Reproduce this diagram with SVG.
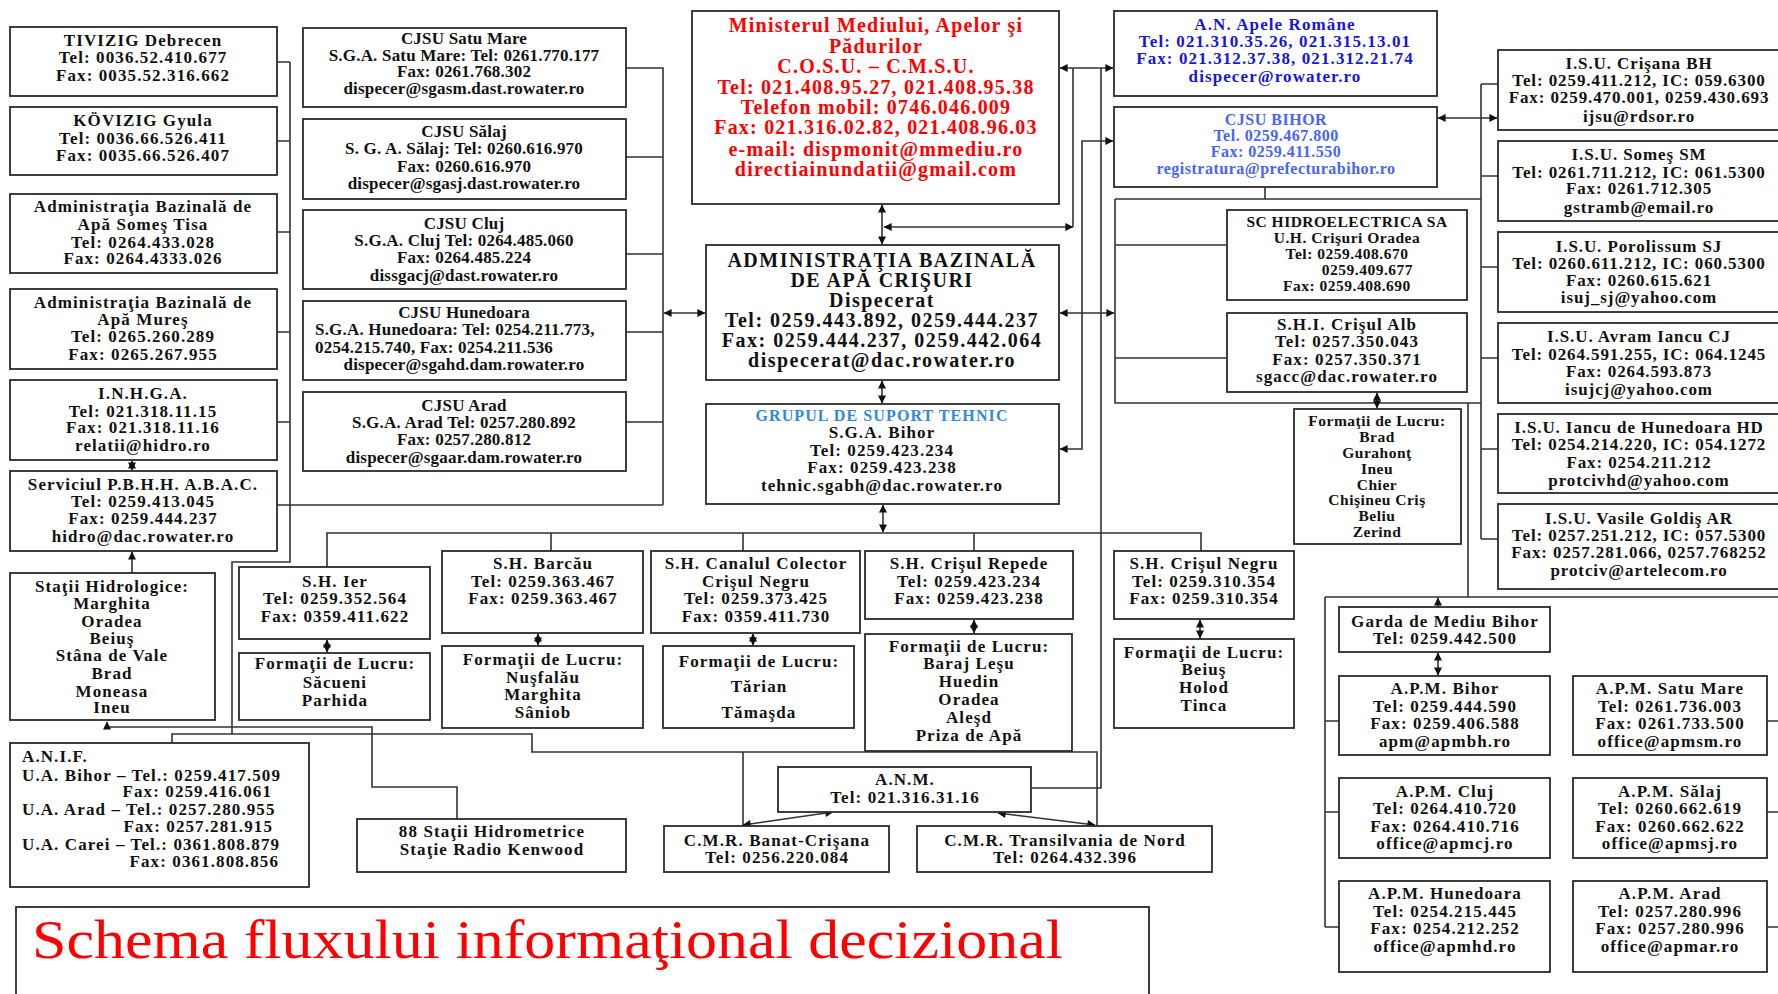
<svg xmlns="http://www.w3.org/2000/svg" width="1778" height="994" viewBox="0 0 1778 994">
<defs>
<style>
rect.b{fill:#fff;stroke:#2b2b2b;stroke-width:1.8}
text{font-family:"Liberation Serif","Times New Roman",serif;font-weight:bold;text-anchor:middle;fill:#111;font-size:17px;letter-spacing:1.1px}
.c{letter-spacing:.2px}
.m{font-size:20px;letter-spacing:1.2px;fill:#ff0000}
.a{font-size:20px;letter-spacing:1.5px}
.n{fill:#1515e6}
.cb{font-size:16px;letter-spacing:.5px;fill:#4664ff}
.gs{fill:#3388dd;font-size:16px}
.h{font-size:15.5px;letter-spacing:.5px}
.i{letter-spacing:.9px}
.st{text-anchor:start}
.en{text-anchor:end}
.title{font-weight:normal;fill:#ff0000;font-size:54px;letter-spacing:0;text-anchor:start}
.ln{fill:none;stroke:#333;stroke-width:1.6}
</style>
<marker id="ah" viewBox="0 0 10 10" refX="9.5" refY="5" markerWidth="9" markerHeight="8" markerUnits="userSpaceOnUse" orient="auto-start-reverse"><path d="M0,0 L10,5 L0,10 z" fill="#111"/></marker>
</defs>
<rect width="1778" height="994" fill="#fff"/>

<g id="connectors">
<path class="ln" d="M277,62H290 M277,141H290 M277,232H290 M277,332H290 M277,422H290 M290,62V562H232V734 M172,743V734H532V752H1097V825 M743,752V825"/>
<path class="ln" d="M457,819V787H372V727H107V722" marker-end="url(#ah)"/>
<path class="ln" d="M132,573V552" marker-end="url(#ah)"/>
<path class="ln" d="M132,461V470" marker-start="url(#ah)" marker-end="url(#ah)"/>
<path class="ln" d="M277,505H663 M626,68H663V505 M626,157H663 M626,254H663 M626,332H663 M626,422H663"/>
<path class="ln" d="M664,313H705" marker-start="url(#ah)" marker-end="url(#ah)"/>
<path class="ln" d="M882,205V244" marker-start="url(#ah)" marker-end="url(#ah)"/>
<path class="ln" d="M884,227H1073" marker-start="url(#ah)" marker-end="url(#ah)"/>
<path class="ln" d="M1073,68V227 M1101,68V788H1032"/>
<path class="ln" d="M1060,68H1113" marker-start="url(#ah)" marker-end="url(#ah)"/>
<path class="ln" d="M1060,449H1082V141H1113" marker-start="url(#ah)" marker-end="url(#ah)"/>
<path class="ln" d="M1060,313H1114" marker-start="url(#ah)" marker-end="url(#ah)"/>
<path class="ln" d="M1265,187V199 M1115,199H1481 M1115,199V403H1481 M1115,245H1227 M1115,358H1227"/>
<path class="ln" d="M1377,393V408" marker-start="url(#ah)" marker-end="url(#ah)"/>
<path class="ln" d="M1481,84V539 M1481,84H1498 M1481,176H1498 M1481,267H1498 M1481,358H1498 M1481,449H1498 M1481,539H1498"/>
<path class="ln" d="M1438,118H1497" marker-start="url(#ah)" marker-end="url(#ah)"/>
<path class="ln" d="M1468,403V597 M1325,597H1778 M1325,597V927 M1325,721H1339 M1325,812H1339 M1325,927H1339 M1767,721H1778 M1767,812H1778 M1767,927H1778"/>
<path class="ln" d="M1438,607V598" marker-end="url(#ah)"/>
<path class="ln" d="M1438,653V675" marker-start="url(#ah)" marker-end="url(#ah)"/>
<path class="ln" d="M882,381V403" marker-start="url(#ah)" marker-end="url(#ah)"/>
<path class="ln" d="M883,505V532" marker-start="url(#ah)" marker-end="url(#ah)"/>
<path class="ln" d="M327,567V533H1201V551 M551,533V551 M743,533V551 M974,533V551"/>
<path class="ln" d="M327,640V652" marker-start="url(#ah)" marker-end="url(#ah)"/>
<path class="ln" d="M538,634V645" marker-start="url(#ah)" marker-end="url(#ah)"/>
<path class="ln" d="M753,634V645" marker-start="url(#ah)" marker-end="url(#ah)"/>
<path class="ln" d="M974,620V633" marker-start="url(#ah)" marker-end="url(#ah)"/>
<path class="ln" d="M1200,620V638" marker-start="url(#ah)" marker-end="url(#ah)"/>
<path class="ln" d="M743,825L833,812" marker-start="url(#ah)" marker-end="url(#ah)"/>
<path class="ln" d="M998,813L1095,825" marker-start="url(#ah)" marker-end="url(#ah)"/>
</g>

<g id="n-tivizig"><rect class="b" x="10" y="27" width="267" height="69"/><text x="143" y="46">TIVIZIG Debrecen</text><text x="143" y="63">Tel: 0036.52.410.677</text><text x="143" y="81">Fax: 0035.52.316.662</text></g>
<g id="n-kovizig"><rect class="b" x="10" y="107" width="267" height="68"/><text x="143" y="126">KÖVIZIG Gyula</text><text x="143" y="144">Tel: 0036.66.526.411</text><text x="143" y="161">Fax: 0035.66.526.407</text></g>
<g id="n-aba-somes"><rect class="b" x="10" y="194" width="267" height="79"/><text x="143" y="212">Administraţia Bazinală de</text><text x="143" y="230">Apă Someş Tisa</text><text x="143" y="248">Tel: 0264.433.028</text><text x="143" y="264">Fax: 0264.4333.026</text></g>
<g id="n-aba-mures"><rect class="b" x="10" y="289" width="267" height="80"/><text x="143" y="308">Administraţia Bazinală de</text><text x="143" y="325">Apă Mureş</text><text x="143" y="342">Tel: 0265.260.289</text><text x="143" y="360">Fax: 0265.267.955</text></g>
<g id="n-inhga"><rect class="b" x="10" y="380" width="267" height="80"/><text x="143" y="399">I.N.H.G.A.</text><text x="143" y="417">Tel: 021.318.11.15</text><text x="143" y="433">Fax: 021.318.11.16</text><text x="143" y="451">relatii@hidro.ro</text></g>
<g id="n-pbhh"><rect class="b" x="10" y="471" width="267" height="80"/><text x="143" y="490">Serviciul P.B.H.H. A.B.A.C.</text><text x="143" y="507">Tel: 0259.413.045</text><text x="143" y="524">Fax: 0259.444.237</text><text x="143" y="542">hidro@dac.rowater.ro</text></g>
<g id="n-statii"><rect class="b" x="10" y="573" width="205" height="147"/><text x="112" y="592">Staţii Hidrologice:</text><text x="112" y="609">Marghita</text><text x="112" y="627">Oradea</text><text x="112" y="644">Beiuş</text><text x="112" y="661">Stâna de Vale</text><text x="112" y="679">Brad</text><text x="112" y="697">Moneasa</text><text x="112" y="713">Ineu</text></g>
<g id="n-anif"><rect class="b" x="10" y="743" width="299" height="144"/><text class="st" x="22" y="762">A.N.I.F.</text><text class="st" x="22" y="781">U.A. Bihor – Tel.: 0259.417.509</text><text class="en" x="272" y="797">Fax: 0259.416.061</text><text class="st" x="22" y="815">U.A. Arad – Tel.: 0257.280.955</text><text class="en" x="273" y="832">Fax: 0257.281.915</text><text class="st" x="22" y="850">U.A. Carei – Tel.: 0361.808.879</text><text class="en" x="279" y="867">Fax: 0361.808.856</text></g>

<g id="n-cjsu-sm"><rect class="b" x="303" y="28" width="323" height="79"/><text class="c" x="464" y="44">CJSU Satu Mare</text><text class="c" x="464" y="61">S.G.A. Satu Mare: Tel: 0261.770.177</text><text class="c" x="464" y="77">Fax: 0261.768.302</text><text class="c" x="464" y="94">dispecer@sgasm.dast.rowater.ro</text></g>
<g id="n-cjsu-sj"><rect class="b" x="303" y="119" width="323" height="80"/><text class="c" x="464" y="137">CJSU Sălaj</text><text class="c" x="464" y="154">S. G. A. Sălaj: Tel: 0260.616.970</text><text class="c" x="464" y="172">Fax: 0260.616.970</text><text class="c" x="464" y="189">dispecer@sgasj.dast.rowater.ro</text></g>
<g id="n-cjsu-cj"><rect class="b" x="303" y="210" width="323" height="79"/><text class="c" x="464" y="229">CJSU Cluj</text><text class="c" x="464" y="246">S.G.A. Cluj Tel: 0264.485.060</text><text class="c" x="464" y="263">Fax: 0264.485.224</text><text class="c" x="464" y="281">dissgacj@dast.rowater.ro</text></g>
<g id="n-cjsu-hd"><rect class="b" x="303" y="301" width="323" height="79"/><text class="c" x="464" y="318">CJSU Hunedoara</text><text class="c st" x="315" y="335">S.G.A. Hunedoara: Tel: 0254.211.773,</text><text class="c st" x="315" y="353">0254.215.740, Fax: 0254.211.536</text><text class="c" x="464" y="370">dispecer@sgahd.dam.rowater.ro</text></g>
<g id="n-cjsu-ar"><rect class="b" x="303" y="392" width="323" height="79"/><text class="c" x="464" y="411">CJSU Arad</text><text class="c" x="464" y="428">S.G.A. Arad Tel: 0257.280.892</text><text class="c" x="464" y="445">Fax: 0257.280.812</text><text class="c" x="464" y="463">dispecer@sgaar.dam.rowater.ro</text></g>

<g id="n-minister"><rect class="b" x="692" y="11" width="367" height="193"/><text class="m" x="876" y="32">Ministerul Mediului, Apelor şi</text><text class="m" x="876" y="53">Pădurilor</text><text class="m" x="876" y="73">C.O.S.U. – C.M.S.U.</text><text class="m" x="876" y="94">Tel: 021.408.95.27, 021.408.95.38</text><text class="m" x="876" y="114">Telefon mobil: 0746.046.009</text><text class="m" x="876" y="134">Fax: 021.316.02.82, 021.408.96.03</text><text class="m" x="876" y="156">e-mail: dispmonit@mmediu.ro</text><text class="m" x="876" y="176">directiainundatii@gmail.com</text></g>
<g id="n-abac"><rect class="b" x="706" y="245" width="353" height="135"/><text class="a" x="882" y="267">ADMINISTRAŢIA BAZINALĂ</text><text class="a" x="882" y="287">DE APĂ CRIŞURI</text><text class="a" x="882" y="307">Dispecerat</text><text class="a" x="882" y="327">Tel: 0259.443.892, 0259.444.237</text><text class="a" x="882" y="347">Fax: 0259.444.237, 0259.442.064</text><text class="a" x="882" y="367">dispecerat@dac.rowater.ro</text></g>
<g id="n-grupul"><rect class="b" x="706" y="404" width="353" height="100"/><text class="gs" x="882" y="421">GRUPUL DE SUPORT TEHNIC</text><text x="882" y="438">S.G.A. Bihor</text><text x="882" y="456">Tel: 0259.423.234</text><text x="882" y="473">Fax: 0259.423.238</text><text x="882" y="491">tehnic.sgabh@dac.rowater.ro</text></g>
<g id="n-apele"><rect class="b" x="1114" y="11" width="323" height="85"/><text class="n" x="1275" y="30">A.N. Apele Române</text><text class="n" x="1275" y="47">Tel: 021.310.35.26, 021.315.13.01</text><text class="n" x="1275" y="64">Fax: 021.312.37.38, 021.312.21.74</text><text class="n" x="1275" y="82">dispecer@rowater.ro</text></g>
<g id="n-cjsu-bihor"><rect class="b" x="1114" y="107" width="323" height="80"/><text class="cb" x="1276" y="125">CJSU BIHOR</text><text class="cb" x="1276" y="141">Tel. 0259.467.800</text><text class="cb" x="1276" y="157">Fax: 0259.411.550</text><text class="cb" x="1276" y="174">registratura@prefecturabihor.ro</text></g>
<g id="n-hidroelectrica"><rect class="b" x="1227" y="210" width="240" height="90"/><text class="h" x="1347" y="227">SC HIDROELECTRICA SA</text><text class="h" x="1347" y="243">U.H. Crişuri Oradea</text><text class="h" x="1347" y="259">Tel: 0259.408.670</text><text class="h en" x="1413" y="275">0259.409.677</text><text class="h" x="1347" y="291">Fax: 0259.408.690</text></g>
<g id="n-shi-alb"><rect class="b" x="1227" y="313" width="240" height="79"/><text x="1347" y="330">S.H.I. Crişul Alb</text><text x="1347" y="347">Tel: 0257.350.043</text><text x="1347" y="365">Fax: 0257.350.371</text><text x="1347" y="382">sgacc@dac.rowater.ro</text></g>
<g id="n-form-alb"><rect class="b" x="1294" y="409" width="167" height="135"/><text class="h" x="1377" y="426">Formaţii de Lucru:</text><text class="h" x="1377" y="442">Brad</text><text class="h" x="1377" y="458">Gurahonţ</text><text class="h" x="1377" y="474">Ineu</text><text class="h" x="1377" y="490">Chier</text><text class="h" x="1377" y="505">Chişineu Criş</text><text class="h" x="1377" y="521">Beliu</text><text class="h" x="1377" y="537">Zerind</text></g>

<g id="n-isu-bh"><rect class="b" x="1498" y="50" width="282" height="80"/><text class="i" x="1639" y="69">I.S.U. Crişana BH</text><text class="i" x="1639" y="86">Tel: 0259.411.212, IC: 059.6300</text><text class="i" x="1639" y="103">Fax: 0259.470.001, 0259.430.693</text><text class="i" x="1639" y="122">ijsu@rdsor.ro</text></g>
<g id="n-isu-sm"><rect class="b" x="1498" y="141" width="282" height="80"/><text class="i" x="1639" y="160">I.S.U. Someş SM</text><text class="i" x="1639" y="178">Tel: 0261.711.212, IC: 061.5300</text><text class="i" x="1639" y="194">Fax: 0261.712.305</text><text class="i" x="1639" y="213">gstramb@email.ro</text></g>
<g id="n-isu-sj"><rect class="b" x="1498" y="232" width="282" height="80"/><text class="i" x="1639" y="252">I.S.U. Porolissum SJ</text><text class="i" x="1639" y="269">Tel: 0260.611.212, IC: 060.5300</text><text class="i" x="1639" y="286">Fax: 0260.615.621</text><text class="i" x="1639" y="303">isuj_sj@yahoo.com</text></g>
<g id="n-isu-cj"><rect class="b" x="1498" y="323" width="282" height="80"/><text class="i" x="1639" y="342">I.S.U. Avram Iancu CJ</text><text class="i" x="1639" y="360">Tel: 0264.591.255, IC: 064.1245</text><text class="i" x="1639" y="377">Fax: 0264.593.873</text><text class="i" x="1639" y="395">isujcj@yahoo.com</text></g>
<g id="n-isu-hd"><rect class="b" x="1498" y="414" width="282" height="79"/><text class="i" x="1639" y="433">I.S.U. Iancu de Hunedoara HD</text><text class="i" x="1639" y="450">Tel: 0254.214.220, IC: 054.1272</text><text class="i" x="1639" y="468">Fax: 0254.211.212</text><text class="i" x="1639" y="486">protcivhd@yahoo.com</text></g>
<g id="n-isu-ar"><rect class="b" x="1498" y="504" width="282" height="85"/><text class="i" x="1639" y="524">I.S.U. Vasile Goldiş AR</text><text class="i" x="1639" y="541">Tel: 0257.251.212, IC: 057.5300</text><text class="i" x="1639" y="558">Fax: 0257.281.066, 0257.768252</text><text class="i" x="1639" y="576">protciv@artelecom.ro</text></g>

<g id="n-garda"><rect class="b" x="1339" y="607" width="211" height="45"/><text x="1445" y="627">Garda de Mediu Bihor</text><text x="1445" y="644">Tel: 0259.442.500</text></g>
<g id="n-apm-bh"><rect class="b" x="1339" y="676" width="211" height="79"/><text x="1445" y="694">A.P.M. Bihor</text><text x="1445" y="712">Tel: 0259.444.590</text><text x="1445" y="729">Fax: 0259.406.588</text><text x="1445" y="747">apm@apmbh.ro</text></g>
<g id="n-apm-sm"><rect class="b" x="1573" y="676" width="194" height="79"/><text x="1670" y="694">A.P.M. Satu Mare</text><text x="1670" y="712">Tel: 0261.736.003</text><text x="1670" y="729">Fax: 0261.733.500</text><text x="1670" y="747">office@apmsm.ro</text></g>
<g id="n-apm-cj"><rect class="b" x="1339" y="778" width="211" height="80"/><text x="1445" y="797">A.P.M. Cluj</text><text x="1445" y="814">Tel: 0264.410.720</text><text x="1445" y="832">Fax: 0264.410.716</text><text x="1445" y="849">office@apmcj.ro</text></g>
<g id="n-apm-sj"><rect class="b" x="1573" y="778" width="194" height="80"/><text x="1670" y="797">A.P.M. Sălaj</text><text x="1670" y="814">Tel: 0260.662.619</text><text x="1670" y="832">Fax: 0260.662.622</text><text x="1670" y="849">office@apmsj.ro</text></g>
<g id="n-apm-hd"><rect class="b" x="1339" y="881" width="211" height="91"/><text x="1445" y="899">A.P.M. Hunedoara</text><text x="1445" y="917">Tel: 0254.215.445</text><text x="1445" y="934">Fax: 0254.212.252</text><text x="1445" y="952">office@apmhd.ro</text></g>
<g id="n-apm-ar"><rect class="b" x="1573" y="881" width="194" height="91"/><text x="1670" y="899">A.P.M. Arad</text><text x="1670" y="917">Tel: 0257.280.996</text><text x="1670" y="934">Fax: 0257.280.996</text><text x="1670" y="952">office@apmar.ro</text></g>

<g id="n-sh-ier"><rect class="b" x="239" y="567" width="191" height="72"/><text x="335" y="587">S.H. Ier</text><text x="335" y="604">Tel: 0259.352.564</text><text x="335" y="622">Fax: 0359.411.622</text></g>
<g id="n-form-ier"><rect class="b" x="239" y="653" width="191" height="67"/><text x="335" y="669">Formaţii de Lucru:</text><text x="335" y="688">Săcueni</text><text x="335" y="706">Parhida</text></g>
<g id="n-sh-barcau"><rect class="b" x="442" y="551" width="201" height="82"/><text x="543" y="569">S.H. Barcău</text><text x="543" y="587">Tel: 0259.363.467</text><text x="543" y="604">Fax: 0259.363.467</text></g>
<g id="n-form-barcau"><rect class="b" x="442" y="646" width="201" height="82"/><text x="543" y="665">Formaţii de Lucru:</text><text x="543" y="683">Nuşfalău</text><text x="543" y="700">Marghita</text><text x="543" y="718">Sâniob</text></g>
<g id="n-sh-canal"><rect class="b" x="651" y="551" width="209" height="82"/><text x="756" y="569">S.H. Canalul Colector</text><text x="756" y="587">Crişul Negru</text><text x="756" y="604">Tel: 0259.373.425</text><text x="756" y="622">Fax: 0359.411.730</text></g>
<g id="n-form-canal"><rect class="b" x="663" y="646" width="191" height="82"/><text x="759" y="667">Formaţii de Lucru:</text><text x="759" y="692">Tărian</text><text x="759" y="718">Tămaşda</text></g>
<g id="n-sh-repede"><rect class="b" x="865" y="551" width="208" height="68"/><text x="969" y="569">S.H. Crişul Repede</text><text x="969" y="587">Tel: 0259.423.234</text><text x="969" y="604">Fax: 0259.423.238</text></g>
<g id="n-form-repede"><rect class="b" x="865" y="634" width="207" height="117"/><text x="969" y="652">Formaţii de Lucru:</text><text x="969" y="669">Baraj Leşu</text><text x="969" y="687">Huedin</text><text x="969" y="705">Oradea</text><text x="969" y="723">Aleşd</text><text x="969" y="741">Priza de Apă</text></g>
<g id="n-sh-negru"><rect class="b" x="1114" y="551" width="180" height="68"/><text x="1204" y="569">S.H. Crişul Negru</text><text x="1204" y="587">Tel: 0259.310.354</text><text x="1204" y="604">Fax: 0259.310.354</text></g>
<g id="n-form-negru"><rect class="b" x="1114" y="639" width="180" height="89"/><text x="1204" y="658">Formaţii de Lucru:</text><text x="1204" y="675">Beiuş</text><text x="1204" y="693">Holod</text><text x="1204" y="711">Tinca</text></g>

<g id="n-anm"><rect class="b" x="778" y="767" width="253" height="45"/><text x="905" y="785">A.N.M.</text><text x="905" y="803">Tel: 021.316.31.16</text></g>
<g id="n-cmr-bc"><rect class="b" x="664" y="826" width="225" height="46"/><text x="777" y="846">C.M.R. Banat-Crişana</text><text x="777" y="863">Tel: 0256.220.084</text></g>
<g id="n-cmr-tn"><rect class="b" x="917" y="826" width="295" height="46"/><text x="1065" y="846">C.M.R. Transilvania de Nord</text><text x="1065" y="863">Tel: 0264.432.396</text></g>
<g id="n-88"><rect class="b" x="357" y="819" width="269" height="53"/><text x="492" y="837">88 Staţii Hidrometrice</text><text x="492" y="855">Staţie Radio Kenwood</text></g>

<g id="title"><rect class="b" x="16" y="907" width="1133" height="100"/><text class="title" x="32" y="958" textLength="1031" lengthAdjust="spacingAndGlyphs">Schema fluxului informaţional decizional</text></g>
</svg>
